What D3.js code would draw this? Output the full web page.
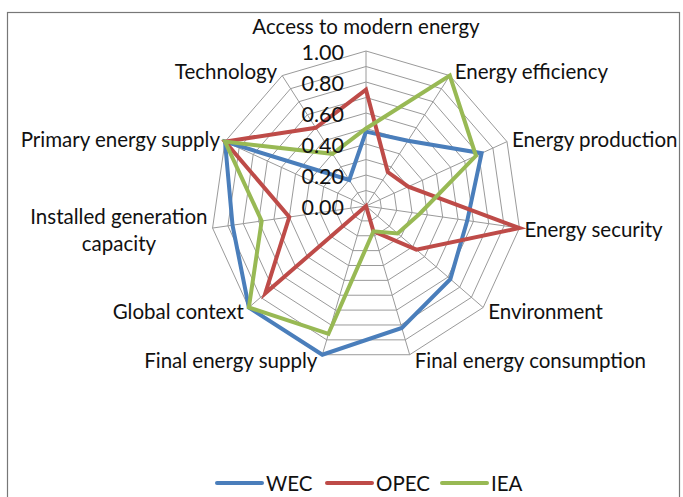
<!DOCTYPE html>
<html>
<head>
<meta charset="utf-8">
<script src="https://cdn.jsdelivr.net/npm/d3@7"></script>
<style>
  html, body { margin: 0; padding: 0; background: #fff; }
  svg { display: block; }
  text { font-family: Lato, "Open Sans", sans-serif; fill: #111; }
</style>
</head>
<body>
<div id="chart"></div>
<script>
// radar: drie organisaties over elf energie-thema's
const categories = [
  'Access to modern energy', 'Energy efficiency', 'Energy production',
  'Energy security', 'Environment', 'Final energy consumption',
  'Final energy supply', 'Global context', 'Installed generation capacity',
  'Primary energy supply', 'Technology'
];
const wecValues  = [0.48, 0.50, 0.82, 0.66, 0.72, 0.82, 1.00, 1.00, 0.87, 1.00, 0.20];
const opecValues = [0.75, 0.26, 0.30, 1.00, 0.43, 0.17, 0.00, 0.86, 0.50, 1.00, 0.60];
const ieaValues  = [0.50, 1.00, 0.78, 0.35, 0.27, 0.17, 0.86, 1.00, 0.68, 1.00, 0.40];
const seriesNames = ['WEC', 'OPEC', 'IEA'];
const tickLabels = [0.00, 0.20, 0.40, 0.60, 0.80, 1.00];
const gridLevels = [0.1, 0.2, 0.3, 0.4, 0.5, 0.6, 0.7, 0.8, 0.9, 1.0];

const W = 683, H = 497;
const cx = 366, cy = 206, R = 155;
const colors = ['#4a7ebb', '#be4b48', '#98b954'];
const grid = '#9a9a9a';
const FS = 20.5;

const svg = d3.select('#chart').append('svg').attr('width', W).attr('height', H);

// kader
svg.append('rect')
  .attr('x', 7.5).attr('y', 12.5).attr('width', 672).attr('height', 500)
  .attr('fill', 'none').attr('stroke', '#777').attr('stroke-width', 1.2);

const r = d3.scaleLinear().domain([0, 1]).range([0, R]);
const angle = d3.scaleLinear().domain([0, categories.length]).range([0, 2 * Math.PI]);
const ang = c => angle(categories.indexOf(c));
const pt = (c, v) => [cx + r(v) * Math.sin(ang(c)), cy - r(v) * Math.cos(ang(c))];

const g = svg.append('g');

// ringen
gridLevels.forEach(lv => {
  g.append('polygon')
    .attr('points', categories.map(c => pt(c, lv).join(',')).join(' '))
    .attr('fill', 'none').attr('stroke', grid).attr('stroke-width', 1);
});

// spaken
categories.forEach(c => {
  const [x, y] = pt(c, 1);
  g.append('line')
    .attr('x1', cx).attr('y1', cy).attr('x2', x).attr('y2', y)
    .attr('stroke', grid).attr('stroke-width', 1);
});

// series
const line = d3.line().curve(d3.curveLinearClosed);
[wecValues, opecValues, ieaValues].forEach((vals, i) => {
  g.append('path')
    .attr('d', line(categories.map((c, k) => pt(c, vals[k]))))
    .attr('fill', 'none').attr('stroke', colors[i])
    .attr('stroke-width', 4).attr('stroke-linejoin', 'miter');
});

// as-labels
tickLabels.forEach(t => {
  g.append('text')
    .attr('x', cx - 22).attr('y', cy - r(t) + 1)
    .attr('text-anchor', 'end').attr('dominant-baseline', 'central')
    .attr('font-size', 21.5)
    .text(t.toFixed(2));
});

// categorie-labels
categories.forEach(c => {
  const a = ang(c);
  const dx = Math.sin(a), dy = -Math.cos(a);
  const [x, y] = pt(c, 1);
  const anchor = dx > 0.1 ? 'start' : dx < -0.1 ? 'end' : 'middle';
  const tx = x + (dx > 0.1 ? 5 : dx < -0.1 ? -5 : 0);
  const ty = Math.abs(dx) < 0.1 ? y - 25 : y + dy * 6;
  const t = g.append('text')
    .attr('text-anchor', anchor).attr('dominant-baseline', 'central')
    .attr('font-size', FS);
  if (c === 'Installed generation capacity') {
    const lines = ['Installed generation', 'capacity'];
    t.attr('text-anchor', 'middle');
    const probe = t.append('tspan').text(lines[0]);
    const w = probe.node().getComputedTextLength();
    probe.remove();
    const mx = tx - w / 2;
    lines.forEach((l, k) => {
      t.append('tspan').attr('x', mx).attr('y', ty - 13 + k * 27).text(l);
    });
  } else {
    t.attr('x', tx).attr('y', ty).text(c);
  }
});

// legenda
const legX = [217, 327, 442];
seriesNames.forEach((n, i) => {
  const lg = svg.append('g').attr('transform', `translate(${legX[i]},483)`);
  lg.append('line').attr('x1', 0).attr('x2', 45).attr('y1', 0).attr('y2', 0)
    .attr('stroke', colors[i]).attr('stroke-width', 4).attr('stroke-linecap', 'round');
  lg.append('text').attr('x', 49).attr('y', 0)
    .attr('dominant-baseline', 'central').attr('font-size', FS).text(n);
});
</script>
</body>
</html>
